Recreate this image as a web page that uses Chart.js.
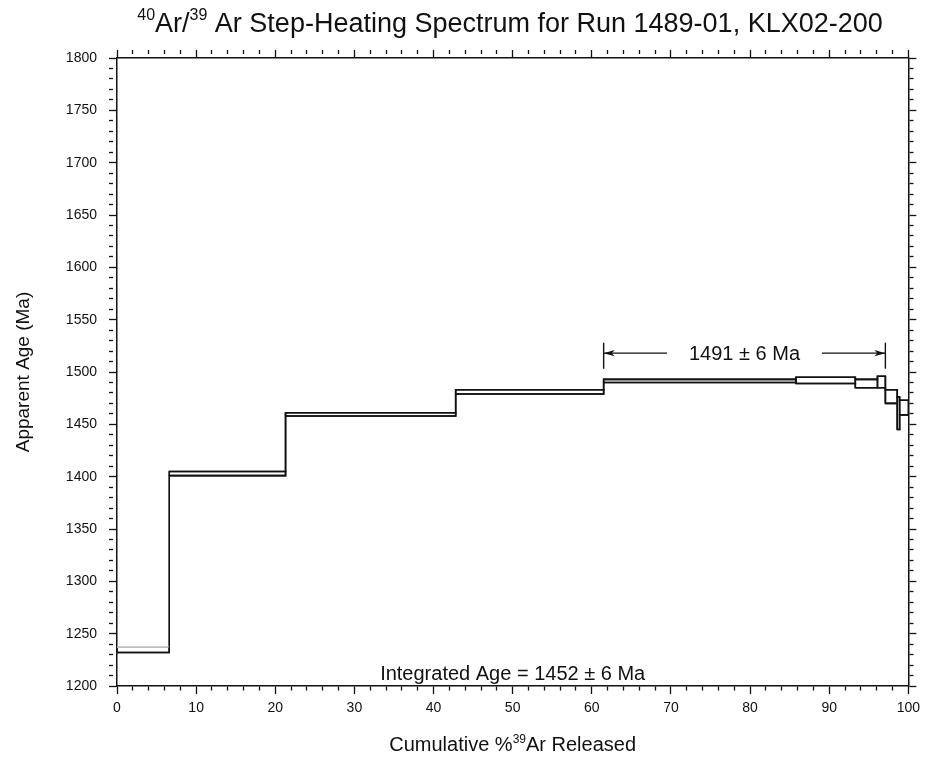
<!DOCTYPE html>
<html>
<head>
<meta charset="utf-8">
<title>40Ar/39Ar Step-Heating Spectrum</title>
<script src="https://cdn.jsdelivr.net/npm/chart.js@4/dist/chart.umd.min.js"></script>
<style>
  html, body { margin: 0; padding: 0; background: #fff; }
  #wrap { width: 926px; height: 758px; }
</style>
</head>
<body>
<div id="wrap"><canvas id="spectrum" width="926" height="758"></canvas></div>
<script>
// --- data ---
// cumulative % 39Ar at the step boundaries
const cumBounds = [0, 6.6, 21.3, 42.8, 61.5, 85.8, 93.3, 96.1, 97.1, 98.6, 98.9, 100];
// apparent age box of each step (Ma), low and high edge
const ageLow  = [1232, 1401, 1458, 1479, 1490, 1489, 1485, 1485, 1470, 1445, 1459];
const ageHigh = [1237, 1405, 1461, 1483, 1493, 1495, 1493, 1496, 1483, 1476, 1473];

// tick labels
const xMajor = [0, 10, 20, 30, 40, 50, 60, 70, 80, 90, 100];
const yMajor = [1200, 1250, 1300, 1350, 1400, 1450, 1500, 1550, 1600, 1650, 1700, 1750, 1800];

// plateau and integrated age
const plateauFrom = 61.5;
const plateauTo = 97.1;
const plateauAt = 1518;
const plateauText = "1491 \u00b1 6 Ma";
const integratedText = "Integrated Age = 1452 \u00b1 6 Ma";
const integratedAt = [50, 1213];

// texts with superscripts
const titleParts = [
  { t: "40", sup: true }, { t: "Ar/" }, { t: "39", sup: true },
  { t: " Ar Step-Heating Spectrum for Run 1489-01, KLX02-200" }
];
const xTitleParts = [{ t: "Cumulative %" }, { t: "39", sup: true }, { t: "Ar Released" }];
const yTitle = "Apparent Age (Ma)";

const FONT = "'Liberation Sans', Arial, Helvetica, sans-serif";
const INK = "#111";

// one closed box per heating step
const datasets = ageLow.map((lo, i) => {
  const s = cumBounds[i], e = cumBounds[i + 1], hi = ageHigh[i];
  const ds = {
    data: [{ x: s, y: lo }, { x: s, y: hi }, { x: e, y: hi }, { x: e, y: lo }, { x: s, y: lo }],
    showLine: true,
    borderColor: INK,
    borderWidth: 1.6,
    borderJoinStyle: "miter",
    pointRadius: 0,
    fill: false
  };
  if (i === 0) {
    // top edge of the first step is drawn faint in the original
    ds.segment = { borderColor: c => (c.p0DataIndex === 1 ? "#bdbdbd" : INK) };
  }
  return ds;
});

// risers joining the steps (lower and upper edge as stepped lines)
function stairs(ages) {
  const pts = ages.map((a, i) => ({ x: cumBounds[i], y: a }));
  pts.push({ x: 100, y: ages[ages.length - 1] });
  return pts;
}
[ageLow, ageHigh].forEach(ages => {
  datasets.push({
    data: stairs(ages),
    showLine: true,
    stepped: "before",
    borderColor: INK,
    borderWidth: 1.6,
    pointRadius: 0,
    fill: false,
    segment: { borderColor: c => (ages === ageHigh && c.p0DataIndex === 0 ? "#bdbdbd" : INK) }
  });
});

function drawRich(ctx, parts, cx, cy, size) {
  const supSize = Math.round(size * 0.6);
  ctx.save();
  ctx.textAlign = "left";
  ctx.textBaseline = "alphabetic";
  ctx.fillStyle = INK;
  let w = 0;
  parts.forEach(p => {
    ctx.font = (p.sup ? supSize : size) + "px " + FONT;
    w += ctx.measureText(p.t).width;
  });
  let x = cx - w / 2;
  const base = cy + size * 0.36;
  parts.forEach(p => {
    ctx.font = (p.sup ? supSize : size) + "px " + FONT;
    ctx.fillText(p.t, x, p.sup ? base - size * 0.42 : base);
    x += ctx.measureText(p.t).width;
  });
  ctx.restore();
}

const textPlugin = {
  id: "texts",
  afterDraw(chart) {
    const ctx = chart.ctx;
    const xs = chart.scales.x, ys = chart.scales.y;
    const area = chart.chartArea;

    // titles
    drawRich(ctx, titleParts, 510, 22, 27);
    drawRich(ctx, xTitleParts, (area.left + area.right) / 2, 744, 20);
    ctx.save();
    ctx.translate(22, (area.top + area.bottom) / 2);
    ctx.rotate(-Math.PI / 2);
    drawRich(ctx, [{ t: yTitle }], 0, 0, 19);
    ctx.restore();

    // integrated age
    drawRich(ctx, [{ t: integratedText }], xs.getPixelForValue(integratedAt[0]),
      ys.getPixelForValue(integratedAt[1]), 20);

    // plateau arrow
    const x0 = xs.getPixelForValue(plateauFrom);
    const x1 = xs.getPixelForValue(plateauTo);
    const y = ys.getPixelForValue(plateauAt);
    const cx = (x0 + x1) / 2;
    ctx.save();
    ctx.font = "20px " + FONT;
    const half = ctx.measureText(plateauText).width / 2 + 22;
    ctx.strokeStyle = INK;
    ctx.fillStyle = INK;
    ctx.lineWidth = 1.4;
    ctx.beginPath();
    ctx.moveTo(x0, ys.getPixelForValue(plateauAt - 15));
    ctx.lineTo(x0, ys.getPixelForValue(plateauAt + 10));
    ctx.moveTo(x1, ys.getPixelForValue(plateauAt - 15));
    ctx.lineTo(x1, ys.getPixelForValue(plateauAt + 10));
    ctx.moveTo(x0, y);
    ctx.lineTo(cx - half, y);
    ctx.moveTo(cx + half, y);
    ctx.lineTo(x1, y);
    ctx.stroke();
    [[x0, 1], [x1, -1]].forEach(([ax, dir]) => {
      ctx.beginPath();
      ctx.moveTo(ax, y);
      ctx.lineTo(ax + dir * 11, y - 3.2);
      ctx.lineTo(ax + dir * 8, y);
      ctx.lineTo(ax + dir * 11, y + 3.2);
      ctx.closePath();
      ctx.fill();
    });
    ctx.restore();
    drawRich(ctx, [{ t: plateauText }], cx, y, 20);
  }
};

function axis(pos, min, max, step, majors, showLabels, size) {
  const horizontal = pos === "top" || pos === "bottom";
  return {
    type: "linear",
    axis: horizontal ? "x" : "y",
    position: pos,
    min: min,
    max: max,
    ticks: {
      display: showLabels,
      stepSize: step,
      maxTicksLimit: 200,
      autoSkip: false,
      maxRotation: 0,
      padding: horizontal ? 6 : 12,
      color: INK,
      font: { family: FONT, size: 14 },
      callback: v => (majors.includes(v) ? String(v) : "")
    },
    grid: {
      drawOnChartArea: false,
      drawTicks: true,
      tickLength: 8,
      tickColor: INK,
      tickWidth: 1.3,
      tickBorderDash: c => (majors.includes(c.tick.value) ? [] : [4, 40])
    },
    border: { display: true, color: INK, width: 1.5 },
    afterFit: s => {
      if (horizontal) s.height = size; else s.width = size;
    }
  };
}

new Chart(document.getElementById("spectrum"), {
  type: "scatter",
  data: { datasets: datasets },
  options: {
    responsive: false,
    animation: false,
    devicePixelRatio: 1,
    layout: { padding: 0 },
    plugins: { legend: { display: false }, tooltip: { enabled: false }, title: { display: false } },
    scales: {
      x: axis("bottom", 0, 100, 2, xMajor, true, 72),
      x2: axis("top", 0, 100, 2, xMajor, false, 58),
      y: axis("left", 1200, 1800, 10, yMajor, true, 117),
      y2: axis("right", 1200, 1800, 10, yMajor, false, 17)
    }
  },
  plugins: [textPlugin]
});
</script>
</body>
</html>
